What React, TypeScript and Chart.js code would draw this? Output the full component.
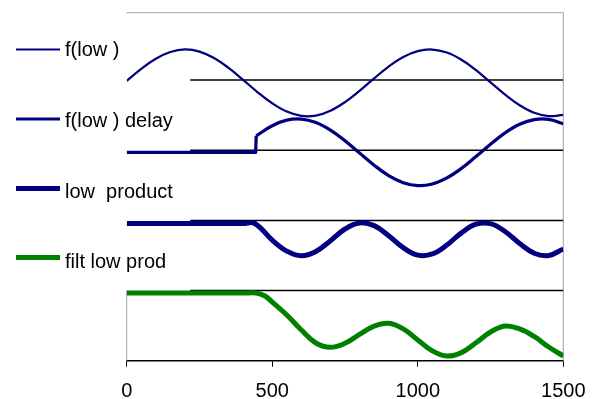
import React, { useEffect, useRef } from "react";
import { Chart, registerables } from "chart.js";

Chart.register(...registerables);

// ---- data ----
const xTicks = [0, 500, 1000, 1500];
const legendLabels = ["f(low )", "f(low ) delay", "low  product", "filt low prod"];

const xLow = [0, 50, 100, 150, 200, 250, 300, 350, 400, 450, 500, 550, 600, 650, 700, 750, 800, 850, 900, 950, 1000, 1050, 1100, 1150, 1200, 1250, 1300, 1350, 1400, 1450, 1500];
const fLow = [3.988, 4.16, 4.304, 4.4, 4.436, 4.406, 4.314, 4.173, 4.003, 3.826, 3.669, 3.551, 3.49, 3.494, 3.563, 3.686, 3.847, 4.024, 4.192, 4.328, 4.413, 4.435, 4.392, 4.289, 4.141, 3.967, 3.793, 3.641, 3.534, 3.486, 3.503];

const xDelay = [0, 100, 200, 300, 400, 443, 445, 500, 550, 600, 650, 700, 750, 800, 850, 900, 950, 1000, 1050, 1100, 1150, 1200, 1250, 1300, 1350, 1400, 1450, 1500];
const fLowDelay = [2.97, 2.97, 2.97, 2.97, 2.97, 2.97, 3.205, 3.349, 3.428, 3.444, 3.394, 3.286, 3.134, 2.959, 2.786, 2.638, 2.537, 2.495, 2.518, 2.605, 2.741, 2.91, 3.086, 3.247, 3.369, 3.436, 3.439, 3.377];
const delayJumpX = 445; // first point after the step

const xProduct = [0, 100, 200, 300, 400, 440, 500, 550, 600, 650, 700, 750, 800, 850, 900, 950, 1000, 1050, 1100, 1150, 1200, 1250, 1300, 1350, 1400, 1450, 1500];
const lowProduct = [1.956, 1.956, 1.956, 1.956, 1.956, 1.956, 1.718, 1.562, 1.496, 1.557, 1.711, 1.877, 1.963, 1.925, 1.782, 1.611, 1.505, 1.521, 1.649, 1.822, 1.945, 1.953, 1.841, 1.67, 1.531, 1.5, 1.593];

const xFilt = [0, 100, 200, 300, 400, 445, 475, 500, 550, 600, 650, 700, 750, 800, 850, 900, 950, 1000, 1050, 1100, 1150, 1200, 1250, 1300, 1350, 1400, 1450, 1500];
const filtLowProd = [0.964, 0.964, 0.964, 0.964, 0.964, 0.964, 0.922, 0.836, 0.652, 0.437, 0.252, 0.191, 0.248, 0.375, 0.493, 0.533, 0.454, 0.296, 0.14, 0.067, 0.115, 0.255, 0.409, 0.494, 0.453, 0.345, 0.195, 0.067];

const refStart = 218;
const refEnd = 1500;
const refLevels = [4, 3, 2, 1];

const yMin = 0;
const yMax = 4.96;

// ---- styles ----
const NAVY = "#000080";
const GREEN = "#008000";
const FONT = "'Liberation Sans', Arial, sans-serif";
const seriesColors = [NAVY, NAVY, NAVY, GREEN];
const seriesWidths = [2.25, 3.25, 5, 5];
const legendWidths = [2, 3, 5, 5];

function pts(xs: number[], ys: number[]) {
  return xs.map((x, i) => ({ x, y: ys[i] }));
}

export default function App() {
  const ref = useRef<HTMLCanvasElement | null>(null);

  useEffect(() => {
    if (!ref.current) return;

    const framePlugin = {
      id: "frame",
      beforeDatasetsDraw(chart: any) {
        const { ctx, chartArea } = chart;
        const yScale = chart.scales.y;
        ctx.save();
        ctx.strokeStyle = "#a0a0a0";
        ctx.lineWidth = 1;
        ctx.beginPath();
        ctx.moveTo(chartArea.left, chartArea.top);
        ctx.lineTo(chartArea.right, chartArea.top);
        ctx.lineTo(chartArea.right, chartArea.bottom);
        ctx.moveTo(chartArea.left, yScale.getPixelForValue(1));
        ctx.lineTo(chartArea.left, chartArea.bottom);
        ctx.stroke();
        ctx.restore();
      },
    };

    const legendPlugin = {
      id: "customLegend",
      afterDraw(chart: any) {
        const { ctx } = chart;
        const lineYs = [49.5, 119, 188.5, 257.5];
        const textYs = [56, 126.5, 197.5, 267.5];
        ctx.save();
        ctx.font = `20px ${FONT}`;
        ctx.textBaseline = "alphabetic";
        ctx.textAlign = "left";
        legendLabels.forEach((label, i) => {
          ctx.strokeStyle = seriesColors[i];
          ctx.lineWidth = legendWidths[i];
          ctx.lineCap = "butt";
          ctx.beginPath();
          ctx.moveTo(16, lineYs[i]);
          ctx.lineTo(60, lineYs[i]);
          ctx.stroke();
          ctx.fillStyle = "#000";
          ctx.fillText(label, 65, textYs[i]);
        });
        ctx.restore();
      },
    };

    const line = (data: any[], i: number, tension: number) => ({
      label: legendLabels[i],
      data,
      borderColor: seriesColors[i],
      borderWidth: seriesWidths[i],
      pointRadius: 0,
      fill: false,
      tension,
      borderJoinStyle: "round",
    });

    const delayPts = pts(xDelay, fLowDelay);
    const jumpIdx = xDelay.indexOf(delayJumpX);
    const delayBefore = delayPts.slice(0, jumpIdx + 1); // flat part + vertical step
    const delayAfter = delayPts.slice(jumpIdx);

    const datasets: any[] = [
      line(pts(xLow, fLow), 0, 0.4),
      line(delayAfter, 1, 0.4),
      line(delayBefore, 1, 0),
      line(pts(xProduct, lowProduct), 2, 0.4),
      line(pts(xFilt, filtLowProd), 3, 0.4),
    ];
    refLevels.forEach((lv) => {
      datasets.push({
        label: "ref" + lv,
        data: [
          { x: refStart, y: lv },
          { x: refEnd, y: lv },
        ],
        borderColor: "#000",
        borderWidth: 1.5,
        pointRadius: 0,
        fill: false,
      });
    });

    const chart = new Chart(ref.current, {
      type: "line",
      data: { datasets },
      options: {
        animation: false,
        responsive: false,
        devicePixelRatio: 1,
        layout: { padding: { left: 126.7, right: 31.7, top: 12.7, bottom: 0 } },
        plugins: {
          legend: { display: false },
          tooltip: { enabled: false },
        },
        scales: {
          x: {
            type: "linear",
            min: 0,
            max: 1500,
            afterBuildTicks: (scale: any) => {
              scale.ticks = xTicks.map((v) => ({ value: v }));
            },
            afterFit: (scale: any) => {
              scale.height = 38.3;
              scale.paddingLeft = 0;
              scale.paddingRight = 0;
            },
            ticks: {
              autoSkip: false,
              maxRotation: 0,
              color: "#000",
              padding: 13,
              font: { family: FONT, size: 20 },
              callback: (v: any) => String(v),
            },
            grid: {
              drawOnChartArea: false,
              drawTicks: true,
              tickLength: 6,
              color: "#000",
              lineWidth: 1,
            },
            border: { display: true, color: "#000", width: 1.5 },
          },
          y: {
            type: "linear",
            display: false,
            min: yMin,
            max: yMax,
          },
        },
      },
      plugins: [framePlugin, legendPlugin],
    } as any);

    return () => chart.destroy();
  }, []);

  return (
    <div style={{ position: "fixed", left: 0, top: 0, width: 595, height: 399, background: "#fff" }}>
      <canvas ref={ref} width={595} height={399} style={{ display: "block" }} />
    </div>
  );
}
